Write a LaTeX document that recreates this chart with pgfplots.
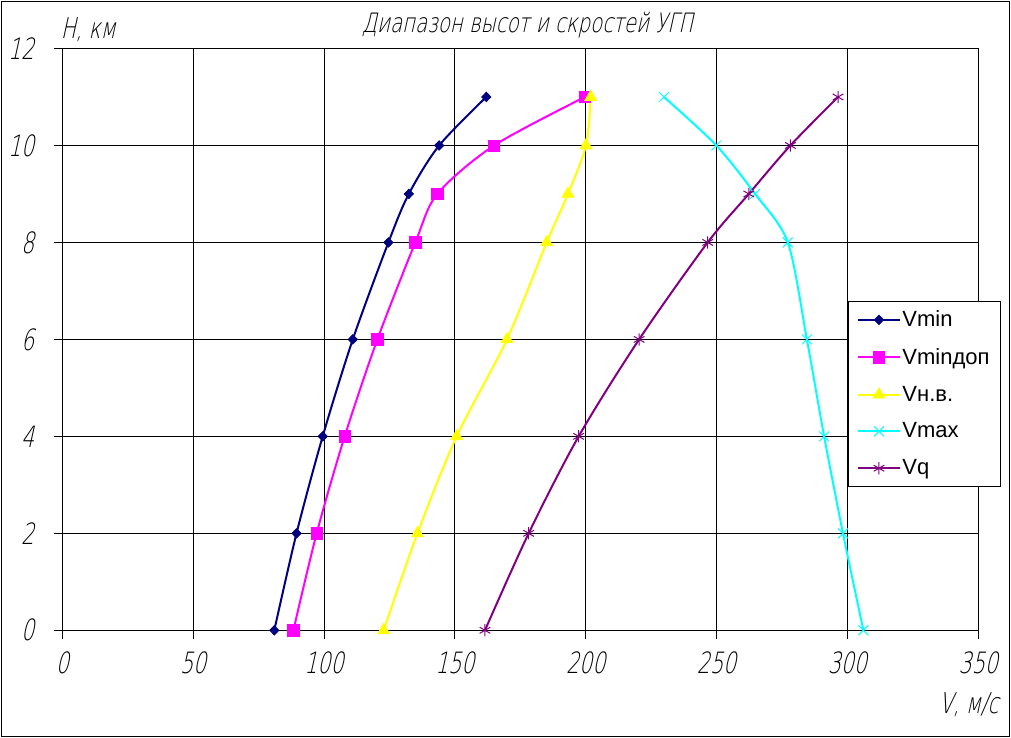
\documentclass[border=0pt]{standalone}
\usepackage{pgfplots}
\pgfplotsset{compat=1.18}
\usepackage{fontspec}
\setmainfont{Liberation Sans}
\newfontfamily\gost{DejaVu Sans ExtraLight}[FakeSlant=0.22,FakeStretch=0.7]
\newfontfamily\gostt{DejaVu Sans ExtraLight}[FakeSlant=0.22,FakeStretch=0.74]
\definecolor{cnavy}{RGB}{0,0,128}
\definecolor{cmag}{RGB}{255,0,255}
\definecolor{cyel}{RGB}{255,255,0}
\definecolor{ccyan}{RGB}{0,255,255}
\definecolor{cpurp}{RGB}{128,0,128}
\begin{document}
\begin{tikzpicture}[x=0.75pt,y=0.75pt]
\useasboundingbox (-62.3,-107.7) rectangle (948.7,630.3);
\draw[black,line width=0.75pt] (-60.8,-106.2) rectangle (947.2,628.8);
\begin{axis}[
  at={(0,0)}, anchor=south west,
  scale only axis, width=687pt, height=436.35pt,
  xmin=0, xmax=350, ymin=0, ymax=12,
  xtick={0,50,...,350}, ytick={0,2,...,12},
  tick pos=left, tick align=outside, major tick length=6.5pt,
  grid=major, major grid style={black, line width=0.75pt},
  axis line style={black, line width=0.75pt},
  every tick/.style={black, line width=0.75pt},
  /pgf/number format/assume math mode=true,
  ticklabel style={font=\gost\fontsize{22}{22}\selectfont},
  xticklabel style={anchor=center, yshift=-18pt},
  yticklabel style={anchor=east, xshift=-11pt},
  every axis plot/.append style={line width=1.5pt, smooth, tension=0.5},
  legend style={at={(0.8577,0.566)}, anchor=north west, draw=black,
    line width=0.75pt, fill=white, font=\fontsize{16.5}{18}\selectfont,
    inner xsep=6.75pt, inner ysep=5.5pt, row sep=11.75pt,
    nodes={inner sep=1.5pt}},
  legend cell align=left,
  legend image code/.code={\draw[mark repeat=2,mark phase=2,#1] plot coordinates {(0pt,0pt) (15.4pt,0pt) (30.75pt,0pt)};},
  clip=false,
]
\addplot[color=cnavy, mark=diamond*, mark size=3.6pt, mark options={solid, xscale=1.3, line width=0.5pt}] coordinates {
(81,0) (89.5,2) (99.5,4) (111,6) (124.6,8) (132.4,9) (144,10) (162,11)};
\addlegendentry{Vmin}
\addplot[color=cmag, mark=square*, mark size=4.2pt, mark options={solid, line width=0.5pt}] coordinates {
(88.3,0) (97.2,2) (107.9,4) (120.4,6) (134.9,8) (143.3,9) (165,10) (199.7,11)};
\addlegendentry{Vminдоп}
\addplot[color=cyel, mark=triangle*, mark size=5.2pt, mark options={solid, line width=0.5pt}] coordinates {
(122.8,0) (135.7,2) (150.7,4) (169.9,6) (185.1,8) (193.2,9) (200.1,10) (201.9,11)};
\addlegendentry{Vн.в.}
\addplot[color=ccyan, mark=x, mark size=5.2pt, mark options={solid, line width=0.75pt}] coordinates {
(306.1,0) (298.3,2) (291.1,4) (284.5,6) (277.2,8) (264.7,9) (249.9,10) (229.9,11)};
\addlegendentry{Vmax}
\addplot[color=cpurp, mark=asterisk, mark size=4.6pt, mark options={solid, line width=0.75pt}] coordinates {
(161.5,0) (178.2,2) (197.3,4) (220.4,6) (246.6,8) (262.3,9) (278.2,10) (296.4,11)};
\addlegendentry{Vq}
\end{axis}
\node[font=\gost\fontsize{21.5}{22}\selectfont, anchor=center] at (26,601) {H, км};
\node[font=\gostt\fontsize{20}{22}\selectfont, anchor=center] at (465.2,605) {Диапазон высот и скростей УГП};
\node[font=\gost\fontsize{21.5}{22}\selectfont, anchor=center] at (906.7,-74.7) {V, м/с};
\end{tikzpicture}
\end{document}
